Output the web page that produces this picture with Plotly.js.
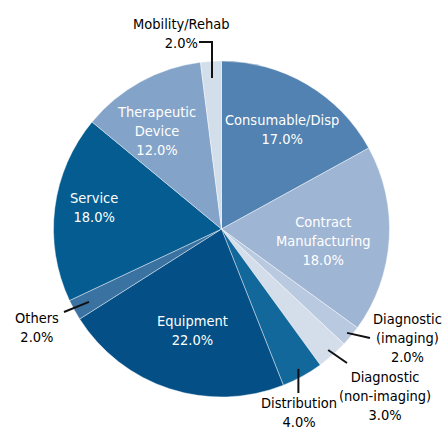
<!DOCTYPE html>
<html><head><meta charset="utf-8">
<script src="https://cdn.plot.ly/plotly-3.0.1.min.js"></script>
<style>html,body{margin:0;padding:0;background:#fff}#chart{width:443px;height:430px}</style>
</head><body><div id="chart"></div>
<script>
// Data
const labels = ["Consumable/Disp", "Contract Manufacturing", "Diagnostic (imaging)", "Diagnostic (non-imaging)", "Distribution", "Equipment", "Others", "Service", "Therapeutic Device", "Mobility/Rehab"];
const displayLabels = ["Consumable/Disp", "Contract<br>Manufacturing", "Diagnostic<br>(imaging)", "Diagnostic<br>(non-imaging)", "Distribution", "Equipment", "Others", "Service", "Therapeutic<br>Device", "Mobility/Rehab"];
const values = [17.0, 18.0, 2.0, 3.0, 4.0, 22.0, 2.0, 18.0, 12.0, 2.0];
const colors = ["#5182b1", "#9fb5d4", "#b9cae0", "#d4deeb", "#12679b", "#034f86", "#3a72a2", "#045c91", "#83a3c8", "#d3deeb"];

// Layout helpers (styling / placement)
const W = 443, H = 430;
const CX = 221.5, CY = 229, R = 168;
const FONT = "'DejaVu Sans Condensed', sans-serif";
const FS = 14.5;
// inside labels: radius fraction and small angular shift (fraction of a turn)
const inside = {0: [0.69, 0.002], 1: [0.61, 0.009], 5: [0.63, -0.006], 7: [0.77, 0.006], 8: [0.70, -0.014]};
const outside = {
  2: {r: 0.97, tx: 407, ty: 338, lx: 370, ly: 338},
  3: {r: 0.96, tx: 385, ty: 396, lx: 347, ly: 363},
  4: {r: 0.95, tx: 299, ty: 412, lx: null, ly: 393, vertical: true},
  6: {r: 0.90, tx: 37, ty: 327, lx: 64, ly: 312},
  9: {r: 0.90, tx: 181, ty: 33, lx: 199, ly: 42, elbowX: 212}
};

const total = values.reduce((a, b) => a + b, 0);
function pt(frac, rf) {
  const a = frac * 2 * Math.PI;
  return [CX + R * rf * Math.sin(a), CY - R * rf * Math.cos(a)];
}
const px = x => x / W, py = y => 1 - y / H;

const annotations = [], shapes = [];
let cum = 0;
values.forEach((v, i) => {
  const mid = (cum + v / 2) / total;
  cum += v;
  const txt = displayLabels[i] + "<br>" + v.toFixed(1) + "%";
  if (inside[i] !== undefined) {
    const [x, y] = pt(mid + inside[i][1], inside[i][0]);
    annotations.push({x: px(x), y: py(y), xref: "paper", yref: "paper", text: txt, showarrow: false,
      font: {family: FONT, size: FS, color: "#ffffff"}, align: "center", xanchor: "center", yanchor: "middle"});
  } else {
    const o = outside[i];
    const [x, y] = pt(mid, o.r);
    annotations.push({x: px(o.tx), y: py(o.ty), xref: "paper", yref: "paper", text: txt, showarrow: false,
      font: {family: FONT, size: FS, color: "#000000"}, align: "center", xanchor: "center", yanchor: "middle"});
    let path;
    if (o.vertical) path = `M${px(x)},${py(y)} L${px(x)},${py(o.ly)}`;
    else if (o.elbowX) path = `M${px(o.lx)},${py(o.ly)} L${px(o.elbowX)},${py(o.ly)} L${px(x)},${py(y)}`;
    else path = `M${px(x)},${py(y)} L${px(o.lx)},${py(o.ly)}`;
    shapes.push({type: "path", xref: "paper", yref: "paper", path: path, line: {color: "#111111", width: 2}});
  }
});

const data = [{
  type: "pie", labels: labels, values: values, sort: false, direction: "clockwise", rotation: 0,
  marker: {colors: colors, line: {color: "rgba(255,255,255,0.7)", width: 0.6}},
  textinfo: "none", hoverinfo: "label+percent",
  domain: {x: [(CX - R) / W, (CX + R) / W], y: [1 - (CY + R) / H, 1 - (CY - R) / H]}
}];
const layout = {
  width: W, height: H, margin: {l: 0, r: 0, t: 0, b: 0}, showlegend: false,
  paper_bgcolor: "#ffffff", annotations: annotations, shapes: shapes
};
Plotly.newPlot("chart", data, layout, {displayModeBar: false, staticPlot: true});
</script></body></html>
